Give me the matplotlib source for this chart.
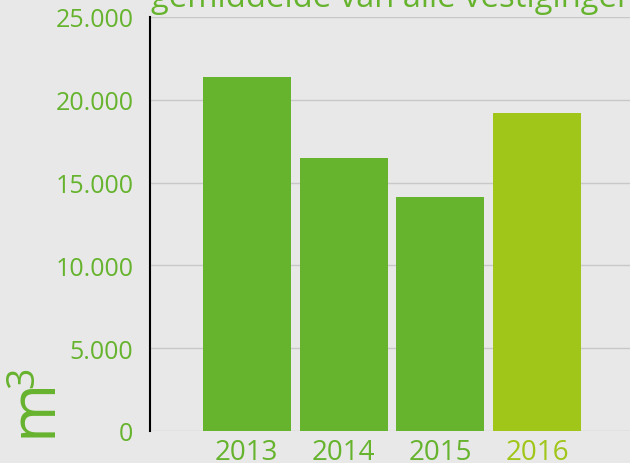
import matplotlib
matplotlib.use("Agg")
import matplotlib.pyplot as plt
from matplotlib.ticker import FuncFormatter

years = ["2013", "2014", "2015", "2016"]
volumes = [21400, 16500, 14150, 19200]
bar_colors = ["#66B32E", "#66B32E", "#66B32E", "#A0C619"]
label_colors = ["#66B32E", "#66B32E", "#66B32E", "#A0C619"]
title = "gemiddelde van alle vestigingen"

plt.rcParams["font.family"] = ["Open Sans", "DejaVu Sans"]
bg = "#E8E8E8"

fig = plt.figure(figsize=(6.3, 4.64), dpi=100, facecolor=bg)
ax = fig.add_axes([150 / 630, 1 - 432 / 464, 480 / 630, 414 / 464], facecolor=bg)

x = range(len(years))
ax.bar(x, volumes, width=0.91, color=bar_colors, zorder=3)

ax.set_xlim(-1.0, 3.96)
ax.set_ylim(0, 25000)
ax.set_yticks(range(0, 25001, 5000))
ax.yaxis.set_major_formatter(FuncFormatter(lambda v, p: f"{int(v):,}".replace(",", ".")))
ax.grid(axis="y", color="#C8C8C8", linewidth=1, zorder=0)
ax.set_xticks(list(x))
ax.set_xticklabels(years)
for lbl, c in zip(ax.get_xticklabels(), label_colors):
    lbl.set_color(c)
ax.tick_params(axis="x", length=0, labelsize=20, pad=5)
ax.tick_params(axis="y", length=0, labelsize=18, labelcolor="#66B32E", pad=12)

for s in ["top", "right", "bottom"]:
    ax.spines[s].set_visible(False)
ax.spines["left"].set_color("black")
ax.spines["left"].set_linewidth(1.5)
ax.spines["left"].set_zorder(4)

# unit label, rotated (anchor = start of baseline)
fig.text(50 / 630, 1 - 437 / 464, "m", rotation=90, rotation_mode="anchor",
         fontsize=46, color="#66B32E", ha="left", va="baseline")
fig.text(33 / 630, 1 - 388 / 464, "3", rotation=90, rotation_mode="anchor",
         fontsize=27, color="#66B32E", ha="left", va="baseline")

# title, cut off at the top of the image
fig.text(151 / 630, 1 - 7 / 464, title, fontsize=23.6, color="#66B32E",
         ha="left", va="baseline")

fig.savefig("out.png", dpi=100, facecolor=bg)
